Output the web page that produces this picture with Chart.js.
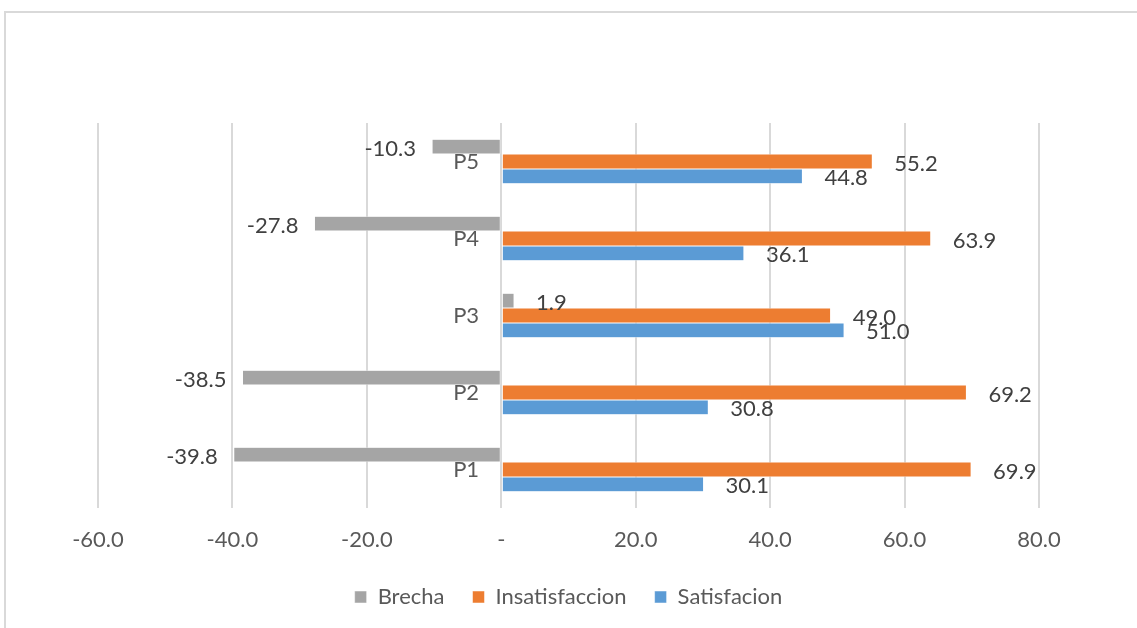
<!DOCTYPE html>
<html lang="es">
<head>
<meta charset="utf-8">
<title>Brecha satisfaccion</title>
<script src="https://cdn.jsdelivr.net/npm/chart.js@4/dist/chart.umd.min.js"></script>
<style>
  html, body { margin: 0; padding: 0; background: #fff; overflow: hidden; }
  #wrap { position: relative; width: 1137px; height: 628px; }
  #marco { position: absolute; left: 4px; top: 11px; width: 1200px; height: 700px; border: 2px solid #d9d9d9; box-sizing: border-box; }
  #grafico { position: absolute; left: 0; top: 0; }
</style>
</head>
<body>
<div id="wrap">
  <div id="marco"></div>
  <canvas id="grafico" width="1137" height="628"></canvas>
</div>
<script>
// --- DATOS ---
const preguntas = ['P5', 'P4', 'P3', 'P2', 'P1'];
const brecha = [-10.3, -27.8, 1.9, -38.5, -39.8];
const insatisfaccion = [55.2, 63.9, 49.0, 69.2, 69.9];
const satisfacion = [44.8, 36.1, 51.0, 30.8, 30.1];
const ticksX = [-60, -40, -20, 0, 20, 40, 60, 80];

const FUENTE = 'Lato, "Open Sans", sans-serif';
const TAM = 22;

// etiquetas de valor (al final de cada barra, estilo Excel)
const etiquetasValor = {
    id: 'etiquetasValor',
    afterDatasetsDraw(chart) {
        const ctx = chart.ctx;
        ctx.save();
        ctx.font = TAM + 'px ' + FUENTE;
        ctx.fillStyle = '#404040';
        ctx.textBaseline = 'middle';
        chart.data.datasets.forEach((ds, i) => {
            const meta = chart.getDatasetMeta(i);
            meta.data.forEach((bar, j) => {
                const v = ds.data[j];
                const txt = v.toFixed(1);
                if (v >= 0) {
                    ctx.textAlign = 'left';
                    ctx.fillText(txt, bar.x + 22, bar.y + 2);
                } else {
                    ctx.textAlign = 'right';
                    ctx.fillText(txt, bar.x - 16, bar.y + 2);
                }
            });
        });
        ctx.restore();
    }
};

document.addEventListener('DOMContentLoaded', function() {
    const ctx = document.getElementById('grafico');
    new Chart(ctx, {
        type: 'bar',
        data: {
            labels: preguntas,
            datasets: [
                { label: 'Brecha', data: brecha, backgroundColor: '#A5A5A5' },
                { label: 'Insatisfaccion', data: insatisfaccion, backgroundColor: '#ED7D31' },
                { label: 'Satisfacion', data: satisfacion, backgroundColor: '#5B9BD5' }
            ]
        },
        options: {
            indexAxis: 'y',
            responsive: false,
            animation: false,
            datasets: {
                bar: {
                    barPercentage: 1,
                    categoryPercentage: 0.58,
                    borderColor: '#ffffff',
                    borderWidth: 0.5,
                    borderSkipped: false
                }
            },
            layout: { padding: { left: 98, right: 98, top: 123, bottom: 10 } },
            plugins: {
                legend: {
                    position: 'bottom',
                    labels: {
                        boxWidth: 12,
                        boxHeight: 12,
                        padding: 28,
                        color: '#595959',
                        font: { family: FUENTE, size: TAM }
                    }
                },
                tooltip: { enabled: false }
            },
            scales: {
                x: {
                    min: -60,
                    max: 80,
                    afterBuildTicks: function(scale) {
                        scale.ticks = ticksX.map(v => ({ value: v }));
                    },
                    afterFit: function(scale) { scale.height = 50; },
                    grid: { color: '#D9D9D9', lineWidth: 2, drawTicks: false },
                    border: { display: false },
                    ticks: {
                        padding: 19,
                        color: '#595959',
                        font: { family: FUENTE, size: TAM },
                        callback: function(value) { return value === 0 ? '-' : value.toFixed(1); }
                    }
                },
                y: {
                    // etiquetas pegadas al cero, un poco a la izquierda
                    position: { x: -3.3 },
                    grid: { display: false },
                    border: { display: false },
                    ticks: {
                        color: '#595959',
                        font: { family: FUENTE, size: TAM }
                    }
                }
            }
        },
        plugins: [etiquetasValor]
    });
});
</script>
</body>
</html>
